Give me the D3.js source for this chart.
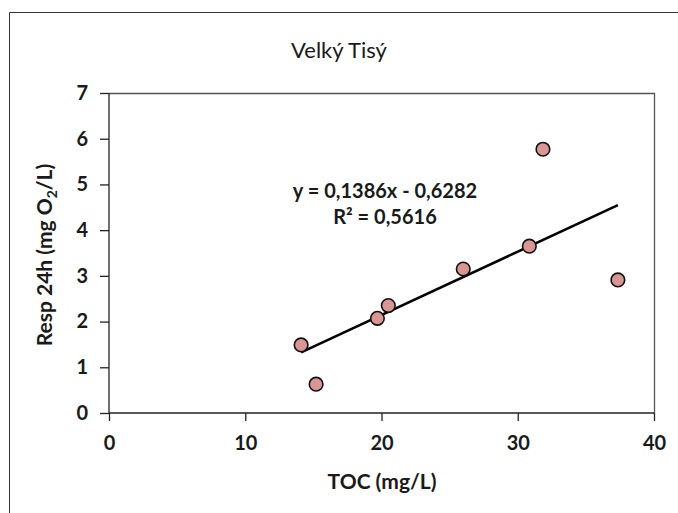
<!DOCTYPE html>
<html>
<head>
<meta charset="utf-8">
<script src="https://cdn.jsdelivr.net/npm/d3@7"></script>
<style>
  body { margin: 0; background: #fff; }
  text { font-family: Lato, "Open Sans", sans-serif; fill: #1a1a1a; }
</style>
</head>
<body>
<div id="chart"></div>
<script>
// data
const toc = [14.1, 15.2, 19.7, 20.5, 26.0, 30.85, 31.85, 37.35];
const resp = [1.49, 0.63, 2.07, 2.35, 3.15, 3.65, 5.77, 2.91];
const xTicks = [0, 10, 20, 30, 40];
const yTicks = [0, 1, 2, 3, 4, 5, 6, 7];
const slope = 0.1386, intercept = -0.6282;
const eqLabel = "y = 0,1386x - 0,6282";
const r2Label = "R² = 0,5616";

const W = 678, H = 513;
const margin = {top: 93, right: 24, bottom: 100, left: 109};
const width = W - margin.left - margin.right;
const height = H - margin.top - margin.bottom;

const svg = d3.select("#chart").append("svg")
  .attr("width", W)
  .attr("height", H);

// outer frame (open at right and bottom like the crop)
svg.append("path")
  .attr("d", `M9.5,${H} V12.5 H${W}`)
  .attr("fill", "none")
  .attr("stroke", "#333")
  .attr("stroke-width", 1);

svg.append("text")
  .attr("x", 339)
  .attr("y", 58)
  .attr("text-anchor", "middle")
  .style("font-size", "22px")
  .text("Velký Tisý");

const g = svg.append("g")
  .attr("transform", `translate(${margin.left},${margin.top})`);

const x = d3.scaleLinear().domain([0, 40]).range([0, width]);
const y = d3.scaleLinear().domain([0, 7]).range([height, 0]);

// plot area border (top + right)
g.append("path")
  .attr("d", `M0,0.5 H${width + 0.5} V${height}`)
  .attr("fill", "none")
  .attr("stroke", "#555")
  .attr("stroke-width", 1.3);

const tickFont = sel => sel
  .style("font-size", "20px").style("font-weight", "bold")
  .style("font-family", "Lato, 'Open Sans', sans-serif").attr("fill", "#1a1a1a");

const xAxis = g.append("g")
  .attr("transform", `translate(0,${height})`)
  .call(d3.axisBottom(x).tickValues(xTicks).tickFormat(d3.format("d")).tickSize(8).tickPadding(15));
xAxis.selectAll("line, path").attr("stroke", "#222").attr("stroke-width", 1.3);
xAxis.select(".domain").attr("d", `M0,0H${width}`);
xAxis.selectAll("text").call(tickFont);

const yAxis = g.append("g")
  .call(d3.axisLeft(y).tickValues(yTicks).tickFormat(d3.format("d")).tickSize(9).tickPadding(12));
yAxis.selectAll("line, path").attr("stroke", "#222").attr("stroke-width", 1.3);
yAxis.select(".domain").attr("d", `M0,${height}V0`);
yAxis.selectAll("text").call(tickFont);

// trendline
const x0 = d3.min(toc), x1 = d3.max(toc);
g.append("line")
  .attr("x1", x(x0)).attr("y1", y(slope * x0 + intercept))
  .attr("x2", x(x1)).attr("y2", y(slope * x1 + intercept))
  .attr("stroke", "#000")
  .attr("stroke-width", 2.6);

// points
g.selectAll("circle")
  .data(toc.map((d, i) => ({x: d, y: resp[i]})))
  .enter().append("circle")
    .attr("cx", d => x(d.x))
    .attr("cy", d => y(d.y))
    .attr("r", 6.8)
    .attr("fill", "#d99694")
    .attr("stroke", "#111")
    .attr("stroke-width", 1.6);

// equation label
const eq = svg.append("text")
  .attr("text-anchor", "middle")
  .style("font-size", "20px")
  .style("font-weight", "bold");
eq.append("tspan").attr("x", 385).attr("y", 198).text(eqLabel);
eq.append("tspan").attr("x", 385).attr("y", 224).text(r2Label);

// axis titles
svg.append("text")
  .attr("x", 382)
  .attr("y", 489)
  .attr("text-anchor", "middle")
  .style("font-size", "21px")
  .style("font-weight", "bold")
  .text("TOC (mg/L)");

const yt = svg.append("text")
  .attr("transform", `translate(52,255) rotate(-90)`)
  .attr("text-anchor", "middle")
  .style("font-size", "21px")
  .style("font-weight", "bold");
yt.append("tspan").text("Resp 24h (mg O");
yt.append("tspan").attr("dy", 5).style("font-size", "14px").text("2");
yt.append("tspan").attr("dy", -5).text("/L)");
</script>
</body>
</html>
